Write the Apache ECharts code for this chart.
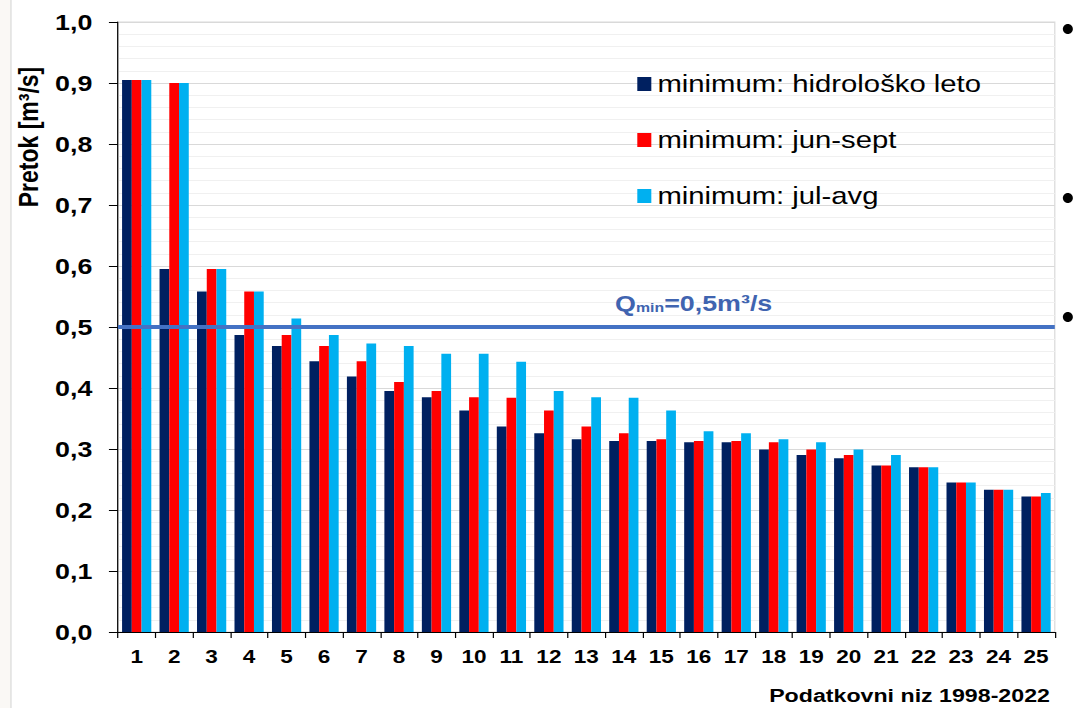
<!DOCTYPE html>
<html>
<head>
<meta charset="utf-8">
<script src="https://cdn.jsdelivr.net/npm/echarts@6/dist/echarts.min.js"></script>
<style>
  html, body { margin: 0; padding: 0; background: #fff; overflow: hidden; }
  /* the source picture is a horizontally stretched slide image, so the chart is drawn narrower and stretched back */
  #chart { width: 892px; height: 708px; transform: scaleX(1.2197); transform-origin: 0 0; }
</style>
</head>
<body>
<div id="chart"></div>
<script>
// podatki, odčitani s slike
const categories = ['1','2','3','4','5','6','7','8','9','10','11','12','13','14','15','16','17','18','19','20','21','22','23','24','25'];
const minHidroLeto = [0.905, 0.595, 0.558, 0.487, 0.469, 0.444, 0.419, 0.395, 0.385, 0.363, 0.337, 0.326, 0.316, 0.313, 0.313, 0.311, 0.311, 0.299, 0.290, 0.285, 0.273, 0.270, 0.245, 0.233, 0.222];
const minJunSept = [0.905, 0.900, 0.595, 0.558, 0.487, 0.469, 0.444, 0.410, 0.395, 0.385, 0.384, 0.363, 0.337, 0.326, 0.316, 0.313, 0.313, 0.311, 0.299, 0.290, 0.273, 0.270, 0.245, 0.233, 0.222];
const minJulAvg = [0.905, 0.900, 0.595, 0.558, 0.514, 0.487, 0.473, 0.469, 0.456, 0.456, 0.443, 0.395, 0.385, 0.384, 0.363, 0.329, 0.326, 0.316, 0.311, 0.299, 0.290, 0.270, 0.245, 0.233, 0.228];
const qmin = 0.5;

const font = "'Liberation Sans', Arial, sans-serif";
const chart = echarts.init(document.getElementById('chart'), null, { renderer: 'svg' });

const option = {
  animation: false,
  backgroundColor: '#fff',
  grid: {
    left: 96.7, right: 27.2, top: 22, bottom: 76,
    show: true, borderColor: '#d9d9d9', borderWidth: 1
  },
  legend: {
    orient: 'vertical',
    left: 517.5, top: 65,
    itemWidth: 11.5, itemHeight: 14, itemGap: 28,
    icon: 'rect',
    textStyle: { fontFamily: font, fontSize: 24, lineHeight: 28, color: '#000' },
    data: ['minimum: hidrološko leto', 'minimum: jun-sept', 'minimum: jul-avg']
  },
  xAxis: {
    type: 'category',
    data: categories,
    name: 'Podatkovni niz 1998-2022',
    nameLocation: 'end',
    nameGap: -4,
    nameTextStyle: {
      fontFamily: font, fontSize: 19, fontWeight: 'bold', color: '#000',
      align: 'right', verticalAlign: 'top', padding: [54, 0, 0, 0]
    },
    axisLine: { lineStyle: { color: '#000', width: 1 } },
    axisTick: { show: true, length: 6, lineStyle: { color: '#000' } },
    axisLabel: {
      margin: 15, color: '#000', fontSize: 18.5, fontWeight: 'bold',
      fontFamily: "'Liberation Sans Narrow', 'Arial Narrow', 'Liberation Sans', sans-serif"
    },
    splitLine: { show: false }
  },
  yAxis: {
    type: 'value',
    min: 0, max: 1, interval: 0.1,
    name: 'Pretok [m³/s]',
    nameLocation: 'middle',
    nameRotate: 90,
    nameGap: 60,
    nameTextStyle: {
      fontFamily: font, fontSize: 23, fontWeight: 'bold', color: '#000',
      padding: [0, 0, 0, 380]
    },
    axisLine: { show: true, lineStyle: { color: '#000', width: 1 } },
    axisTick: { show: true, length: 7.4, lineStyle: { color: '#000' } },
    axisLabel: {
      margin: 21, color: '#000', fontSize: 22, fontWeight: 'bold', fontFamily: font,
      formatter: v => v.toFixed(1).replace('.', ',')
    },
    splitLine: { lineStyle: { color: '#d9d9d9', width: 1 } },
    minorTick: { show: false, splitNumber: 5 },
    minorSplitLine: { show: true, lineStyle: { color: '#f0f0f0', width: 1 } }
  },
  series: [
    {
      name: 'minimum: hidrološko leto',
      type: 'bar',
      data: minHidroLeto,
      barGap: '0%',
      barCategoryGap: '22%',
      itemStyle: { color: '#002060' },
      markLine: {
        silent: true,
        symbol: ['none', 'none'],
        lineStyle: { color: '#4472c4', width: 4, type: 'solid' },
        label: {
          position: 'insideMiddleTop',
          distance: 13,
          padding: [0, 0, 0, 176],
          formatter: '{q|Q}{s|min}{q|=0,5m³/s}',
          rich: {
            q: { fontFamily: font, fontSize: 22, fontWeight: 'bold', color: '#4064b0' },
            s: { fontFamily: font, fontSize: 13, fontWeight: 'bold', color: '#4064b0', verticalAlign: 'bottom', padding: [8, 0, 0, 0] }
          }
        },
        data: [{ yAxis: qmin }]
      }
    },
    {
      name: 'minimum: jun-sept',
      type: 'bar',
      data: minJunSept,
      itemStyle: { color: '#ff0000' }
    },
    {
      name: 'minimum: jul-avg',
      type: 'bar',
      data: minJulAvg,
      itemStyle: { color: '#00b0f0' }
    }
  ],
  graphic: [
    { type: 'rect', left: 0, top: 0, shape: { width: 9, height: 708 }, style: { fill: '#faf8f5' }, silent: true },
    { type: 'line', shape: { x1: 9, y1: 0, x2: 9, y2: 708 }, style: { stroke: '#d9d9d9', lineWidth: 1 }, silent: true },
    { type: 'ellipse', shape: { cx: 875.5, cy: 29, rx: 4.1, ry: 5 }, style: { fill: '#000' }, silent: true },
    { type: 'ellipse', shape: { cx: 875.5, cy: 198, rx: 4.1, ry: 5 }, style: { fill: '#000' }, silent: true },
    { type: 'ellipse', shape: { cx: 875.5, cy: 317, rx: 4.1, ry: 5 }, style: { fill: '#000' }, silent: true }
  ]
};

chart.setOption(option);
</script>
</body>
</html>
